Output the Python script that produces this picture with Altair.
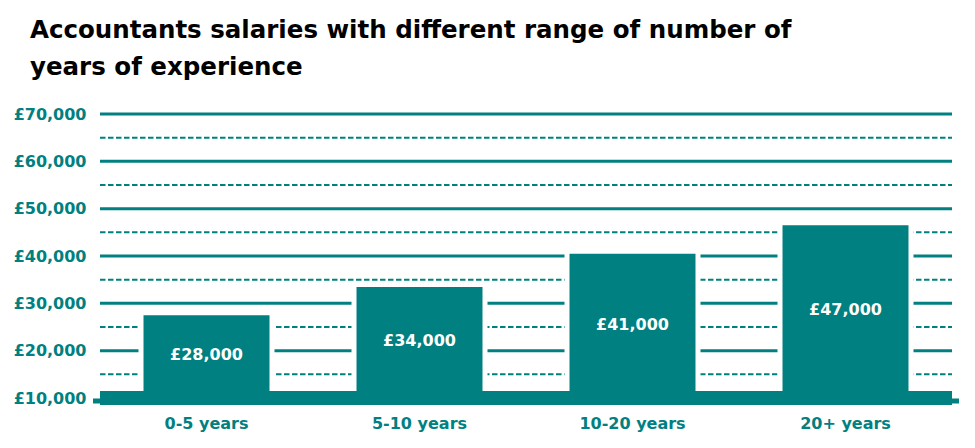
import altair as alt
import pandas as pd

categories = ["0-5 years", "5-10 years", "10-20 years", "20+ years"]
salaries = [28000, 34000, 41000, 47000]
labels = ["£28,000", "£34,000", "£41,000", "£47,000"]
major_ticks = [10000, 20000, 30000, 40000, 50000, 60000, 70000]
major_grid = [20000, 30000, 40000, 50000, 60000, 70000]
minor_grid = [15000, 25000, 35000, 45000, 55000, 65000]
baseline_value = [10000]

TEAL = "#008080"
FONT = "DejaVu Sans"

df = pd.DataFrame({"cat": categories, "salary": salaries, "label": labels})
df["base"] = baseline_value[0]
base_df = pd.DataFrame({"v": baseline_value})
major_df = pd.DataFrame({"v": major_grid})
minor_df = pd.DataFrame({"v": minor_grid})

yscale = alt.Scale(domain=[10000, 70000], nice=False, zero=False)
xscale = alt.Scale(paddingInner=0.385, paddingOuter=0.1925)

yaxis = alt.Axis(
    values=major_ticks,
    labelExpr="'£' + format(datum.value, ',')",
    domain=False, ticks=False, title=None, grid=False,
    labelColor=TEAL, labelFont=FONT, labelFontSize=16, labelFontWeight="bold",
    labelPadding=14,
)

major = alt.Chart(major_df).mark_rule(color=TEAL, strokeWidth=3).encode(
    y=alt.Y("v:Q", scale=yscale, axis=yaxis), x=alt.value(0), x2=alt.value(852)
)
minor = alt.Chart(minor_df).mark_rule(color=TEAL, strokeWidth=2, strokeDash=[5.5, 2.5]).encode(
    y=alt.Y("v:Q", scale=yscale), x=alt.value(0), x2=alt.value(852)
)

bars = alt.Chart(df).mark_bar(color=TEAL, stroke="white", strokeWidth=5).encode(
    x=alt.X("cat:N", sort=categories, scale=xscale,
            axis=alt.Axis(title=None, domain=False, ticks=False, labelAngle=0,
                          labelColor=TEAL, labelFont=FONT, labelFontSize=16,
                          labelFontWeight="bold", labelPadding=25, labelBaseline="middle")),
    y=alt.Y("salary:Q", scale=yscale),
    y2="base:Q",
)

text = alt.Chart(df).transform_calculate(mid="(datum.salary + datum.base) / 2").mark_text(
    color="white", font=FONT, fontSize=16, fontWeight="bold", baseline="middle"
).encode(
    x=alt.X("cat:N", sort=categories),
    y=alt.Y("mid:Q", scale=yscale),
    text="label:N",
)

baseline = alt.Chart(base_df).mark_rule(color=TEAL, strokeWidth=14).encode(
    y=alt.Y("v:Q", scale=yscale), x=alt.value(0), x2=alt.value(852)
)
ends = alt.Chart(base_df).mark_rule(color=TEAL, strokeWidth=5, yOffset=3).encode(
    y=alt.Y("v:Q", scale=yscale), x=alt.value(-7), x2=alt.value(859)
)

chart = alt.layer(major, minor, ends, bars, text, baseline).properties(
    width=852, height=284,
    autosize=alt.AutoSizeParams(type="none"),
    padding={"left": 92, "top": 106, "right": 15, "bottom": 42},
    title=alt.TitleParams(
        ["Accountants salaries with different range of number of", "years of experience"],
        anchor="start", frame="group", dx=-70, offset=26,
        font=FONT, fontSize=24.5, fontWeight="bold", color="black", lineHeight=37,
    ),
).configure_view(stroke=None)

chart.save("out.html", embed_options={"renderer": "svg", "actions": False})
